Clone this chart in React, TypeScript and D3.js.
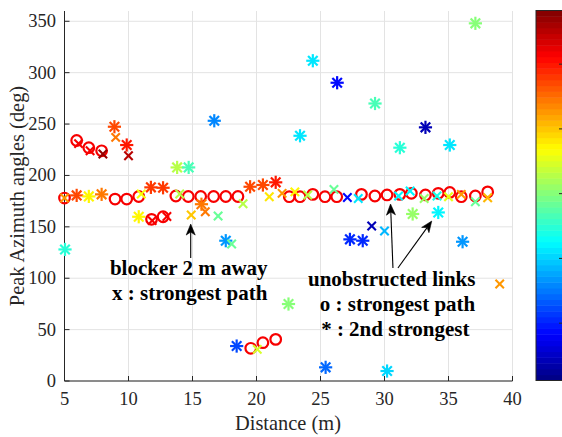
import React from "react";
import * as d3 from "d3";

// ---- data ----
// strongest path, unobstructed links ('o')
const circleDist = [5, 5.95, 6.9, 7.9, 8.95, 9.86, 10.8, 11.8, 12.7, 13.7, 14.67, 15.64, 16.65, 17.6, 18.55, 19.55, 20.5, 21.5, 22.56, 23.4, 24.4, 25.35, 26.27, 28.2, 29.25, 30.2, 31.2, 32.1, 33.2, 34.2, 35.1, 36.0, 37.1, 38.06];
const circleAngle = [178, 234, 227, 224, 177, 177, 179.5, 157.3, 159.8, 180, 179.5, 179.5, 179.5, 179.5, 179.5, 31.8, 37.3, 40.5, 179.3, 179.3, 181.6, 179.3, 179.3, 181.6, 180, 181, 181.6, 182.6, 181, 182.6, 183.5, 179.3, 180, 184];
const circleLevel = circleDist.map(() => 0.875);

// 2nd strongest path, unobstructed links ('*')
const starDist = [5.04, 5.95, 6.9, 7.9, 8.9, 9.86, 10.8, 11.75, 12.7, 13.8, 14.7, 15.7, 16.7, 17.6, 18.45, 19.5, 20.5, 21.5, 22.5, 23.4, 24.4, 25.4, 26.3, 27.3, 28.3, 29.26, 30.2, 31.2, 32.2, 33.2, 34.2, 35.1, 36.1, 37.1];
const starAngle = [128, 180.6, 179.6, 181.6, 247.4, 229.6, 159.8, 188.4, 188, 207.8, 207.8, 172, 253.2, 136.5, 34, 189, 190.7, 193.3, 74.9, 238.6, 311.6, 13.3, 290.2, 137.8, 136.5, 270, 9.7, 227, 162.5, 246.8, 164, 229.6, 135.5, 348];
const starLevel = [0.41, 0.8, 0.63, 0.75, 0.8, 0.85, 0.64, 0.82, 0.82, 0.55, 0.45, 0.75, 0.25, 0.27, 0.2, 0.8, 0.8, 0.85, 0.5, 0.35, 0.35, 0.22, 0.13, 0.17, 0.17, 0.45, 0.33, 0.42, 0.52, 0.05, 0.37, 0.35, 0.28, 0.5];

// strongest path, blocker 2 m away ('x')
const crossDist = [5, 6.1, 7.0, 8.0, 9.0, 10.0, 11.0, 11.85, 13.0, 14.0, 14.9, 16.0, 17.0, 18.06, 18.95, 20.06, 21.0, 22.0, 23.0, 24.0, 26.05, 27.1, 27.95, 29.0, 30.0, 31.1, 32.0, 33.1, 34.1, 35.0, 36.0, 37.1, 38.06, 39.0];
const crossAngle = [178, 231, 224, 220.8, 237, 219.2, 182, 156, 160, 182, 161.5, 164.7, 160.5, 133.3, 172.5, 30.8, 179.3, 182.6, 184, 181, 186.4, 178.5, 177.6, 150.8, 146, 180, 184.8, 177.6, 180, 179.3, 181.6, 174.4, 178.3, 94.4];
const crossLevel = [0.72, 0.88, 0.88, 0.97, 0.75, 0.95, 0.62, 0.88, 0.88, 0.55, 0.68, 0.75, 0.47, 0.48, 0.55, 0.58, 0.65, 0.72, 0.63, 0.55, 0.47, 0.13, 0.35, 0.06, 0.3, 0.36, 0.36, 0.53, 0.4, 0.6, 0.72, 0.48, 0.7, 0.72];

const xTicks = [5, 10, 15, 20, 25, 30, 35, 40];
const yTicks = [0, 50, 100, 150, 200, 250, 300, 350];
const cbarTicks = [0.155, 0.33, 0.505, 0.68, 0.855];

// annotations
const leftNote = ["blocker 2 m away", "x : strongest path"];
const rightNote = ["unobstructed links", "o : strongest path", "* : 2nd strongest"];

const W = 562;
const H = 437;

function jet(v: number) {
  const q = Math.min(63, Math.max(0, Math.floor(v * 64)));
  const t = (q + 0.5) / 64;
  const c = (x: number) => Math.round(255 * Math.max(0, Math.min(1, x)));
  const r = c(1.5 - Math.abs(4 * t - 3));
  const g = c(1.5 - Math.abs(4 * t - 2));
  const b = c(1.5 - Math.abs(4 * t - 1));
  return `rgb(${r},${g},${b})`;
}

function Arrow({ x1, y1, x2, y2 }: { x1: number; y1: number; x2: number; y2: number }) {
  const ang = Math.atan2(y2 - y1, x2 - x1);
  const L = 11, hw = 4.5, back = 8;
  const ux = Math.cos(ang), uy = Math.sin(ang);
  const px = -uy, py = ux;
  const bx = x2 - ux * L, by = y2 - uy * L;
  const nx = x2 - ux * back, ny = y2 - uy * back;
  const head = `M${x2},${y2} L${bx + px * hw},${by + py * hw} L${nx},${ny} L${bx - px * hw},${by - py * hw} Z`;
  return (
    <g>
      <line x1={x1} y1={y1} x2={nx} y2={ny} stroke="#000" strokeWidth={1.1} />
      <path d={head} fill="#000" stroke="#000" strokeWidth={0.6} />
    </g>
  );
}

export default function App() {
  const x = d3.scaleLinear().domain([5, 40]).range([64.5, 512.5]);
  const y = d3.scaleLinear().domain([0, 360]).range([381, 11]);
  const cb = d3.scaleLinear().domain([0, 1]).range([380.5, 10.5]);
  const axisColor = "#262626";
  const serif = "'Liberation Serif', 'Times New Roman', serif";
  const steps = d3.range(64);

  return (
    <svg width={W} height={H} style={{ position: "fixed", left: 0, top: 0, background: "#fff" }} fontFamily={serif}>
      <rect x={0} y={0} width={W} height={H} fill="#fff" />
      {xTicks.map((t) => (
        <line key={"gx" + t} x1={x(t)} x2={x(t)} y1={y(360)} y2={y(0)} stroke="#e3e3e3" strokeWidth={1} />
      ))}
      {yTicks.map((t) => (
        <line key={"gy" + t} x1={x(5)} x2={x(40)} y1={y(t)} y2={y(t)} stroke="#e3e3e3" strokeWidth={1} />
      ))}
      <line x1={x(5)} x2={x(5)} y1={y(360)} y2={y(0)} stroke={axisColor} strokeWidth={1} />
      <line x1={x(5)} x2={x(40)} y1={y(0)} y2={y(0)} stroke={axisColor} strokeWidth={1} />
      {xTicks.map((t) => (
        <g key={"xt" + t}>
          <line x1={x(t)} x2={x(t)} y1={y(0)} y2={y(0) - 5} stroke={axisColor} />
          <text x={x(t)} y={405} textAnchor="middle" fontSize={18.5} fill={axisColor}>{t}</text>
        </g>
      ))}
      {yTicks.map((t) => (
        <g key={"yt" + t}>
          <line x1={x(5)} x2={x(5) + 5} y1={y(t)} y2={y(t)} stroke={axisColor} />
          <text x={56} y={y(t) + 6} textAnchor="end" fontSize={18.5} fill={axisColor}>{t}</text>
        </g>
      ))}
      <text x={288} y={430} textAnchor="middle" fontSize={20.4} fill={axisColor}>Distance (m)</text>
      <text transform={`translate(24,${y(180)}) rotate(-90)`} textAnchor="middle" fontSize={20.4} fill={axisColor}>
        Peak Azimuth angles (deg)
      </text>

      {circleDist.map((d, i) => (
        <circle key={"c" + i} cx={x(d)} cy={y(circleAngle[i])} r={5.3} fill="none" stroke={jet(circleLevel[i])} strokeWidth={2.2} />
      ))}
      {starDist.map((d, i) => {
        const cx = x(d), cy = y(starAngle[i]), s = 5.5, k = 4;
        const col = jet(starLevel[i]);
        return (
          <g key={"s" + i} stroke={col} strokeWidth={2.2} strokeLinecap="square">
            <line x1={cx - s} x2={cx + s} y1={cy} y2={cy} />
            <line x1={cx} x2={cx} y1={cy - s} y2={cy + s} />
            <line x1={cx - k} x2={cx + k} y1={cy - k} y2={cy + k} />
            <line x1={cx - k} x2={cx + k} y1={cy + k} y2={cy - k} />
          </g>
        );
      })}
      {crossDist.map((d, i) => {
        const cx = x(d), cy = y(crossAngle[i]), s = 4.2;
        const col = jet(crossLevel[i]);
        return (
          <g key={"x" + i} stroke={col} strokeWidth={2.1}>
            <line x1={cx - s} x2={cx + s} y1={cy - s} y2={cy + s} />
            <line x1={cx - s} x2={cx + s} y1={cy + s} y2={cy - s} />
          </g>
        );
      })}

      <g fontWeight="bold" fontSize={21} fill="#000">
        <text x={x(8.55)} y={y(103)}>{leftNote[0]}</text>
        <text x={x(8.71)} y={y(78.8)}>{leftNote[1]}</text>
        <text x={x(24.02)} y={y(92.4)}>{rightNote[0]}</text>
        <text x={x(24.95)} y={y(68.1)}>{rightNote[1]}</text>
        <text x={x(25.05)} y={y(43.8)}>{rightNote[2]}</text>
      </g>
      <Arrow x1={x(14.86)} y1={y(119.6)} x2={x(14.86)} y2={y(152.7)} />
      <Arrow x1={x(30.66)} y1={y(109.9)} x2={x(30.47)} y2={y(172.2)} />
      <Arrow x1={x(31.05)} y1={y(109.9)} x2={x(33.69)} y2={y(155.6)} />

      {steps.map((s) => (
        <rect key={"cb" + s} x={536} width={30} y={cb((s + 1) / 64)} height={cb(s / 64) - cb((s + 1) / 64) + 0.5} fill={jet((s + 0.5) / 64)} />
      ))}
      <rect x={536} y={10.5} width={30} height={370} fill="none" stroke={axisColor} strokeWidth={1} />
      {cbarTicks.map((t) => (
        <line key={"cbt" + t} x1={559} x2={566} y1={cb(t)} y2={cb(t)} stroke={axisColor} strokeWidth={1} />
      ))}
    </svg>
  );
}
